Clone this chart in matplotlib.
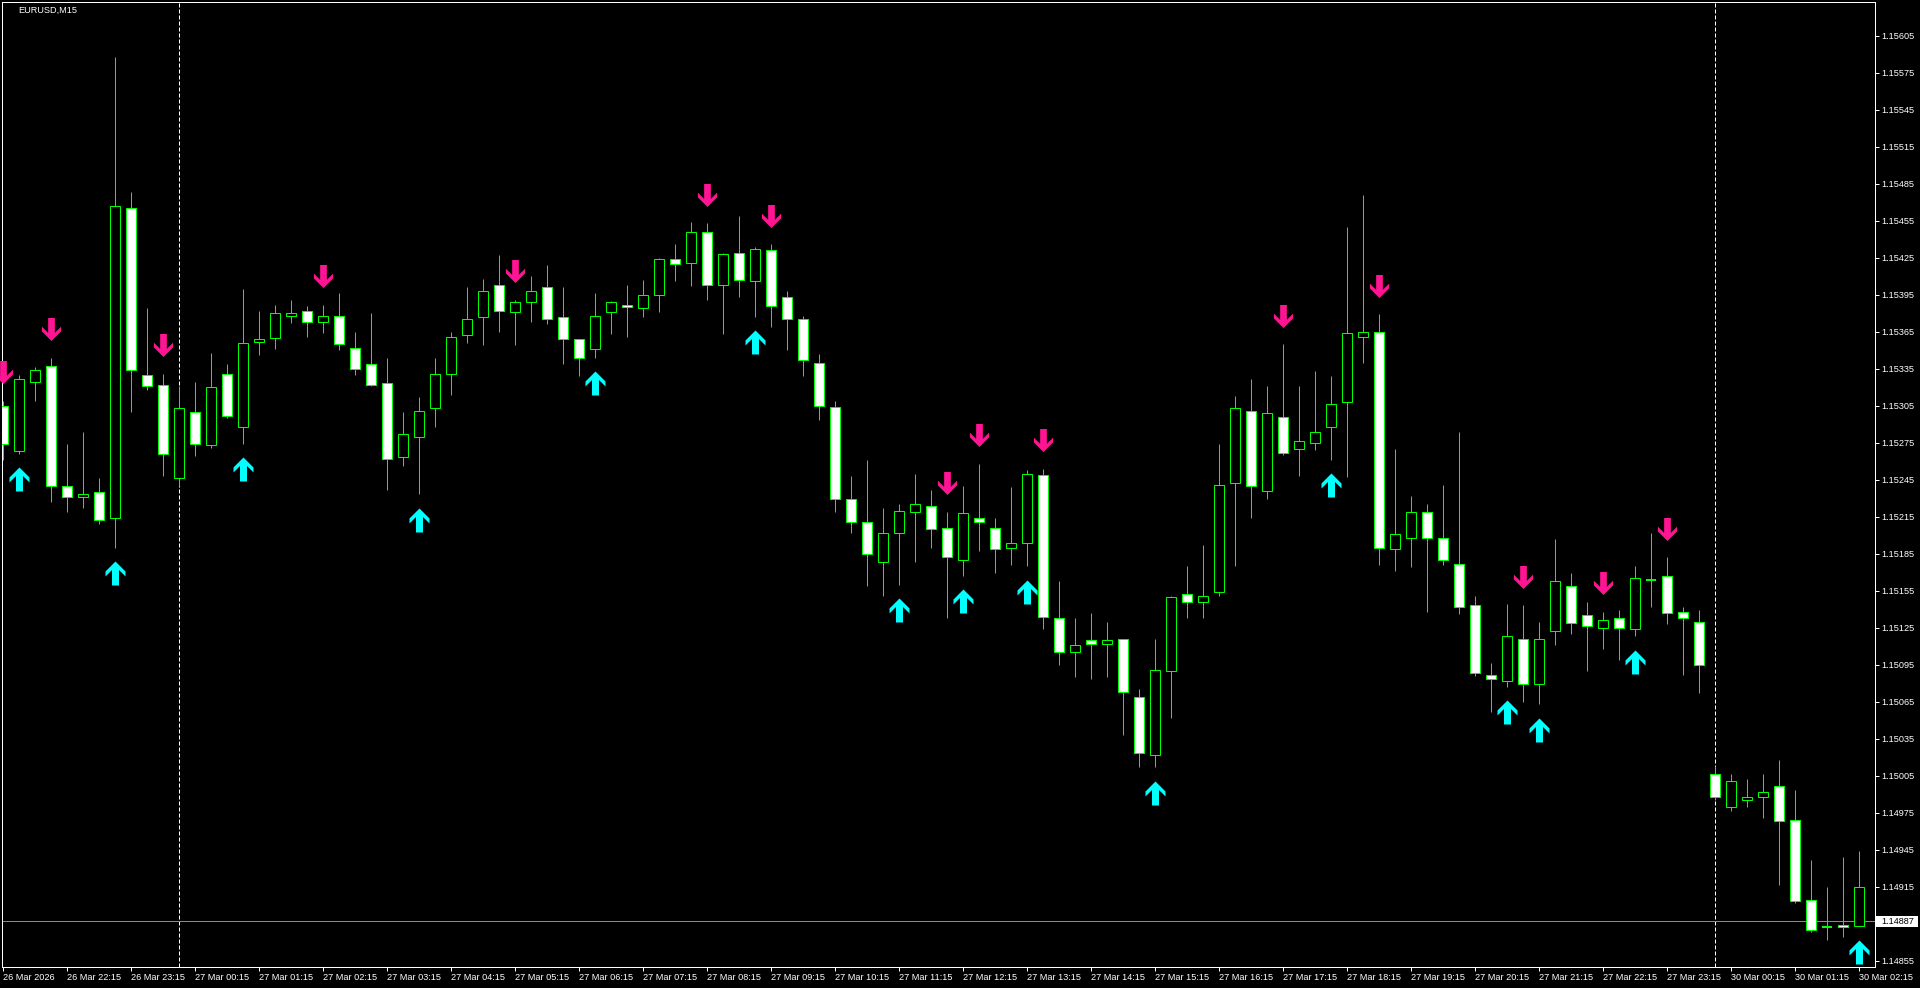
#!/usr/bin/env python3
"""
EURUSD M15 candlestick chart with buy / sell arrows (MT4 green-on-black look)
"""

import numpy as np
import matplotlib
matplotlib.use("Agg")
import matplotlib.pyplot as plt
from matplotlib.path import Path
from matplotlib.patches import Rectangle
from matplotlib.transforms import offset_copy

# bars from 26 Mar 21:15 to 30 Mar 02:15 (M15)
opens = [
    1.15305, 1.15268, 1.15324, 1.15337, 1.15240, 1.15231, 1.15235, 1.15214, 1.15465, 1.15330,
    1.15322, 1.15246, 1.15300, 1.15273, 1.15331, 1.15288, 1.15357, 1.15360, 1.15378, 1.15382,
    1.15373, 1.15378, 1.15352, 1.15339, 1.15323, 1.15263, 1.15280, 1.15303, 1.15331, 1.15362,
    1.15377, 1.15403, 1.15381, 1.15389, 1.15401, 1.15377, 1.15359, 1.15351, 1.15381, 1.15387,
    1.15384, 1.15395, 1.15424, 1.15421, 1.15446, 1.15403, 1.15429, 1.15406, 1.15431, 1.15393,
    1.15375, 1.15340, 1.15304, 1.15229, 1.15211, 1.15178, 1.15202, 1.15219, 1.15224, 1.15206,
    1.15180, 1.15214, 1.15206, 1.15190, 1.15194, 1.15249, 1.15133, 1.15105, 1.15115, 1.15112,
    1.15116, 1.15069, 1.15022, 1.15090, 1.15152, 1.15146, 1.15154, 1.15242, 1.15301, 1.15236,
    1.15296, 1.15270, 1.15275, 1.15288, 1.15308, 1.15361, 1.15365, 1.15189, 1.15198, 1.15219,
    1.15198, 1.15177, 1.15143, 1.15087, 1.15082, 1.15116, 1.15079, 1.15122, 1.15159, 1.15135,
    1.15125, 1.15133, 1.15124, 1.15164, 1.15167, 1.15138, 1.15130, 1.15006, 1.14980, 1.14985,
    1.14988, 1.14997, 1.14969, 1.14904, 1.14882, 1.14884, 1.14883,
]
highs = [
    1.15309, 1.15330, 1.15336, 1.15344, 1.15274, 1.15284, 1.15246, 1.15588, 1.15478, 1.15384,
    1.15331, 1.15321, 1.15324, 1.15348, 1.15339, 1.15400, 1.15382, 1.15387, 1.15391, 1.15386,
    1.15387, 1.15396, 1.15365, 1.15380, 1.15344, 1.15300, 1.15312, 1.15344, 1.15365, 1.15401,
    1.15408, 1.15427, 1.15391, 1.15410, 1.15419, 1.15401, 1.15359, 1.15396, 1.15390, 1.15403,
    1.15407, 1.15425, 1.15436, 1.15454, 1.15453, 1.15429, 1.15459, 1.15434, 1.15436, 1.15398,
    1.15378, 1.15347, 1.15309, 1.15248, 1.15261, 1.15222, 1.15225, 1.15250, 1.15237, 1.15219,
    1.15240, 1.15258, 1.15214, 1.15239, 1.15253, 1.15254, 1.15163, 1.15133, 1.15137, 1.15130,
    1.15116, 1.15075, 1.15116, 1.15151, 1.15175, 1.15192, 1.15274, 1.15313, 1.15327, 1.15321,
    1.15355, 1.15321, 1.15333, 1.15329, 1.15450, 1.15476, 1.15379, 1.15270, 1.15232, 1.15225,
    1.15241, 1.15284, 1.15151, 1.15096, 1.15144, 1.15143, 1.15130, 1.15197, 1.15169, 1.15146,
    1.15138, 1.15139, 1.15175, 1.15202, 1.15182, 1.15142, 1.15139, 1.15013, 1.15006, 1.15002,
    1.15006, 1.15018, 1.14993, 1.14937, 1.14915, 1.14939, 1.14944,
]
lows = [
    1.15261, 1.15266, 1.15309, 1.15227, 1.15219, 1.15222, 1.15209, 1.15190, 1.15300, 1.15318,
    1.15248, 1.15240, 1.15264, 1.15271, 1.15295, 1.15274, 1.15346, 1.15351, 1.15372, 1.15361,
    1.15364, 1.15350, 1.15330, 1.15321, 1.15237, 1.15256, 1.15233, 1.15288, 1.15314, 1.15356,
    1.15354, 1.15365, 1.15354, 1.15373, 1.15371, 1.15339, 1.15329, 1.15344, 1.15363, 1.15361,
    1.15377, 1.15381, 1.15406, 1.15402, 1.15391, 1.15363, 1.15393, 1.15377, 1.15369, 1.15350,
    1.15329, 1.15293, 1.15219, 1.15202, 1.15159, 1.15151, 1.15160, 1.15178, 1.15190, 1.15133,
    1.15167, 1.15187, 1.15169, 1.15176, 1.15175, 1.15124, 1.15095, 1.15085, 1.15083, 1.15085,
    1.15038, 1.15012, 1.15012, 1.15052, 1.15133, 1.15133, 1.15151, 1.15175, 1.15214, 1.15229,
    1.15265, 1.15248, 1.15269, 1.15261, 1.15247, 1.15340, 1.15176, 1.15171, 1.15174, 1.15138,
    1.15176, 1.15136, 1.15086, 1.15057, 1.15077, 1.15065, 1.15063, 1.15111, 1.15120, 1.15090,
    1.15108, 1.15099, 1.15118, 1.15142, 1.15128, 1.15087, 1.15072, 1.14985, 1.14976, 1.14980,
    1.14971, 1.14916, 1.14902, 1.14878, 1.14872, 1.14874, 1.14883,
]
closes = [
    1.15274, 1.15327, 1.15334, 1.15240, 1.15231, 1.15233, 1.15212, 1.15467, 1.15334, 1.15321,
    1.15266, 1.15303, 1.15274, 1.15320, 1.15297, 1.15356, 1.15359, 1.15380, 1.15380, 1.15373,
    1.15378, 1.15355, 1.15335, 1.15322, 1.15262, 1.15282, 1.15301, 1.15331, 1.15361, 1.15375,
    1.15398, 1.15382, 1.15389, 1.15398, 1.15375, 1.15359, 1.15344, 1.15378, 1.15389, 1.15385,
    1.15395, 1.15424, 1.15420, 1.15446, 1.15403, 1.15428, 1.15407, 1.15432, 1.15386, 1.15375,
    1.15342, 1.15305, 1.15229, 1.15211, 1.15185, 1.15202, 1.15220, 1.15225, 1.15205, 1.15182,
    1.15218, 1.15211, 1.15189, 1.15194, 1.15250, 1.15134, 1.15105, 1.15111, 1.15112, 1.15115,
    1.15073, 1.15023, 1.15091, 1.15150, 1.15146, 1.15151, 1.15241, 1.15303, 1.15240, 1.15299,
    1.15267, 1.15276, 1.15284, 1.15306, 1.15364, 1.15365, 1.15190, 1.15201, 1.15219, 1.15198,
    1.15180, 1.15142, 1.15088, 1.15083, 1.15118, 1.15079, 1.15116, 1.15163, 1.15129, 1.15126,
    1.15131, 1.15125, 1.15165, 1.15164, 1.15137, 1.15133, 1.15095, 1.14988, 1.15001, 1.14988,
    1.14992, 1.14968, 1.14903, 1.14880, 1.14882, 1.14882, 1.14915,
]

# indicator signals (bar index)
buy_bars = [1, 7, 15, 26, 37, 47, 56, 60, 64, 72, 83, 94, 96, 102, 116]
sell_bars = [0, 3, 10, 20, 32, 44, 48, 59, 61, 65, 80, 86, 95, 100, 104]

# day separators (bar index of 00:00)
separator_bars = [11, 107]

time_labels = [
    "26 Mar 2026", "26 Mar 22:15", "26 Mar 23:15",
    "27 Mar 00:15", "27 Mar 01:15", "27 Mar 02:15", "27 Mar 03:15", "27 Mar 04:15",
    "27 Mar 05:15", "27 Mar 06:15", "27 Mar 07:15", "27 Mar 08:15", "27 Mar 09:15",
    "27 Mar 10:15", "27 Mar 11:15", "27 Mar 12:15", "27 Mar 13:15", "27 Mar 14:15",
    "27 Mar 15:15", "27 Mar 16:15", "27 Mar 17:15", "27 Mar 18:15", "27 Mar 19:15",
    "27 Mar 20:15", "27 Mar 21:15", "27 Mar 22:15", "27 Mar 23:15",
    "30 Mar 00:15", "30 Mar 01:15", "30 Mar 02:15",
]
price_ticks = [
    1.15605, 1.15575, 1.15545, 1.15515, 1.15485, 1.15455, 1.15425, 1.15395, 1.15365,
    1.15335, 1.15305, 1.15275, 1.15245, 1.15215, 1.15185, 1.15155, 1.15125, 1.15095,
    1.15065, 1.15035, 1.15005, 1.14975, 1.14945, 1.14915, 1.14855,
]
bid_price = 1.14887
symbol = "EURUSD,M15"

# look
W, H, DPI = 1920, 988, 100
PX = 72.0 / DPI
LIME = "#00FF00"
AQUA = "#00FFFF"
PINK = "#FF1493"
BID_GRAY = "#8A8A8A"
FS = 6.6

plt.rcParams['font.family'] = ['Liberation Sans', 'DejaVu Sans']

fig = plt.figure(figsize=(W / DPI, H / DPI), dpi=DPI, facecolor="black")
ax = fig.add_axes([2 / W, 21 / H, 1873 / W, 965 / H])
ax.set_facecolor("black")

o = np.array(opens)
h = np.array(highs)
l = np.array(lows)
c = np.array(closes)
x = np.arange(len(o))

# wicks
ax.vlines(x, l, h, color=LIME, linewidth=PX, zorder=2)

# bodies: bull = black, bear = white
bull = c > o
bear = c < o
doji = c == o
ax.bar(x[bull], (c - o)[bull], bottom=o[bull], width=0.6,
       facecolor="black", edgecolor=LIME, linewidth=PX, zorder=3)
ax.bar(x[bear], (o - c)[bear], bottom=c[bear], width=0.6,
       facecolor="white", edgecolor=LIME, linewidth=PX, zorder=3)
ax.hlines(c[doji], x[doji] - 0.32, x[doji] + 0.32, color=LIME,
          linewidth=2 * PX, zorder=3)

# day separators
for b in separator_bars:
    ax.axvline(b, color="white", linewidth=PX, dashes=(4, 2), zorder=1)

# bid line
ax.axhline(bid_price, color=BID_GRAY, linewidth=PX, zorder=1)

# arrows
up_verts = [(0, 12), (10, 2), (10, -3), (3.5, 3.5), (3.5, -12),
            (-3.5, -12), (-3.5, 3.5), (-10, -3), (-10, 2), (0, 12)]
up_arrow = Path(up_verts, closed=True)
down_arrow = Path([(vx, -vy) for vx, vy in up_verts], closed=True)

buy_tr = offset_copy(ax.transData, fig=fig, x=0, y=-25.5, units="dots")
sell_tr = offset_copy(ax.transData, fig=fig, x=0, y=28.5, units="dots")
ax.plot(x[buy_bars], l[buy_bars], linestyle="none", marker=up_arrow,
        markersize=24 * PX, color=AQUA, markeredgewidth=0,
        transform=buy_tr, zorder=4, clip_on=False)
ax.plot(x[sell_bars], h[sell_bars], linestyle="none", marker=down_arrow,
        markersize=23 * PX, color=PINK, markeredgewidth=0,
        transform=sell_tr, zorder=4, clip_on=False)

# axes
ax.set_xlim(-0.0625, 117.0)
ax.set_ylim(1.1484989, 1.1563231)
for sp in ax.spines.values():
    sp.set_color("white")
    sp.set_linewidth(PX)

ax.set_xticks(x[::4])
ax.set_xticklabels(time_labels, ha="left")
ax.yaxis.tick_right()
ax.set_yticks(price_ticks)
ax.set_yticklabels([f"{p:.5f}" for p in price_ticks])
ax.tick_params(axis="both", colors="white", labelcolor="white", length=4 * PX,
               width=PX, labelsize=FS, direction="out")
ax.tick_params(axis="x", pad=1.2)
ax.tick_params(axis="y", pad=2.0)

# bid price box on the price scale
bid_px = ax.transData.transform((0, bid_price))[1]
fig.add_artist(Rectangle((1876, bid_px - 5.5), 42, 11, transform=None,
                         facecolor="white", edgecolor="none", zorder=5))
fig.text(1881 / W, bid_px / H, f"{bid_price:.5f}", color="black", fontsize=FS,
         va="center", ha="left", zorder=6)

# symbol caption
fig.text(18 / W, 1 - 10.7 / H, symbol, color="white", fontsize=FS,
         va="center", ha="left")

fig.savefig("out.png", dpi=DPI, facecolor="black")
